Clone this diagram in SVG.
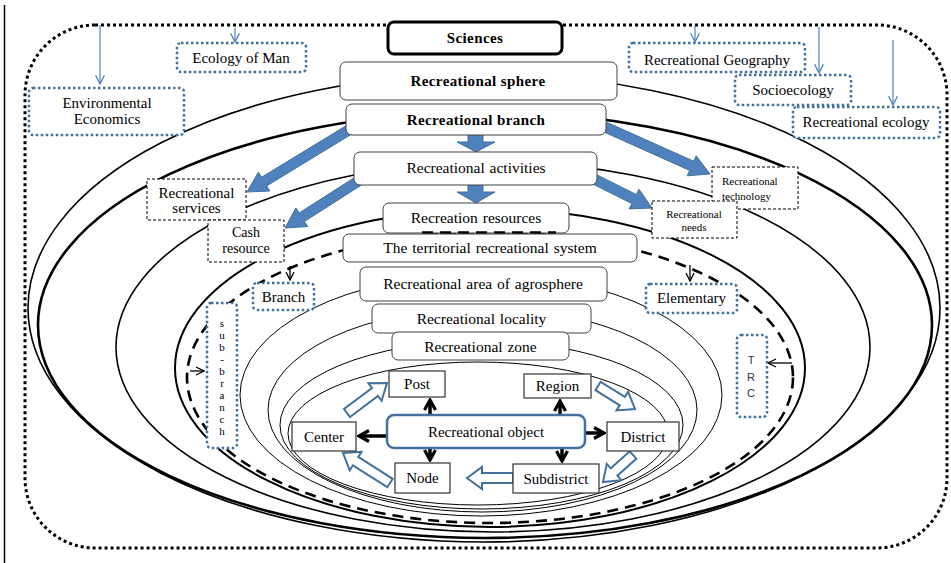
<svg xmlns="http://www.w3.org/2000/svg" width="951" height="563" viewBox="0 0 951 563">
<style>
.box{fill:#fff;stroke:#404040;stroke-width:1}
.nbox{fill:#fff;stroke:#333;stroke-width:1.2}
.dbox{fill:#fff;stroke:#000;stroke-width:1;stroke-dasharray:3 2}
.bdot{fill:#fff;stroke:#41719C;stroke-width:2.5;stroke-dasharray:2.5 2.5}
.t{font-family:"Liberation Serif","Times New Roman",serif;font-size:15px;fill:#000;text-anchor:middle}
.st{font-size:15.5px;word-spacing:1px}
.b{font-weight:bold;letter-spacing:0.4px}
.s{font-size:11px}
.ring{fill:none;stroke:#000}
.blk{fill:#4F81BD;stroke:#41719C;stroke-width:1}
.hol{fill:#fff;stroke:#41719C;stroke-width:2}
.bl{stroke:#4F81BD;stroke-width:1.2;fill:none}
.ka{stroke:#000;stroke-width:3.5;fill:none}
.ta{stroke:#000;stroke-width:1.3;fill:none}
</style>
<defs>
<marker id="bh" viewBox="0 0 14 14" refX="12" refY="7" markerWidth="14" markerHeight="14" markerUnits="userSpaceOnUse" orient="auto"><path d="M2,1.5 L12,7 L2,12.5" fill="none" stroke="#000" stroke-width="3.2"/></marker>
<marker id="th" viewBox="0 0 10 10" refX="9" refY="5" markerWidth="10" markerHeight="10" markerUnits="userSpaceOnUse" orient="auto"><path d="M1,1 L9,5 L1,9" fill="none" stroke="#000" stroke-width="1.3"/></marker>
<marker id="bth" viewBox="0 0 10 10" refX="9" refY="5" markerWidth="11" markerHeight="11" markerUnits="userSpaceOnUse" orient="auto"><path d="M1,1 L9,5 L1,9" fill="none" stroke="#4F81BD" stroke-width="1.2"/></marker>
</defs>
<rect width="951" height="563" fill="#fff"/>
<line x1="4.5" y1="5" x2="4.5" y2="563" stroke="#000" stroke-width="1.5"/>
<rect x="25" y="25" width="922" height="523" rx="70" fill="none" stroke="#000" stroke-width="3" stroke-dasharray="3 3"/>

<g id="rings">
<ellipse class="ring" cx="484" cy="308" rx="456" ry="234" stroke-width="1.6"/>
<ellipse class="ring" cx="485" cy="325" rx="447" ry="213" stroke-width="2.6"/>
<ellipse class="ring" cx="493" cy="347" rx="377" ry="185" stroke-width="1.6"/>
<ellipse class="ring" cx="490" cy="368" rx="315" ry="159" stroke-width="2"/>
<ellipse class="ring" cx="490" cy="377.5" rx="303" ry="145.5" stroke-width="2.6" stroke-dasharray="11 7"/>
<ellipse class="ring" cx="481" cy="395" rx="241" ry="121" stroke-width="1" stroke="#444"/>
<ellipse class="ring" cx="482.5" cy="410" rx="214.5" ry="102" stroke-width="1"/>
<ellipse class="ring" cx="481.5" cy="425" rx="201.5" ry="84" stroke-width="1"/>
<ellipse class="ring" cx="478" cy="433.5" rx="190" ry="71.5" stroke-width="1"/>
</g>

<g id="connectors">
<line class="bl" x1="100" y1="25" x2="100" y2="84" marker-end="url(#bth)"/>
<line class="bl" x1="235" y1="28" x2="235" y2="42" marker-end="url(#bth)"/>
<line class="bl" x1="695" y1="25" x2="695" y2="42" marker-end="url(#bth)"/>
<line class="bl" x1="819" y1="27" x2="819" y2="73" marker-end="url(#bth)"/>
<line class="bl" x1="893" y1="40" x2="893" y2="105" marker-end="url(#bth)"/>
<polygon class="blk" points="354.6,132.3 266.7,185.9 269.8,191 247,192 258.4,172.2 261.5,177.3 349.4,123.7"/>
<polygon class="blk" points="602.95,131.57 689.7,170.4 687.2,175.8 710,174 696.2,155.8 693.7,161.2 607.05,122.43"/>
<polygon class="blk" points="362.7,184.2 304.5,221.4 307.7,226.5 285,228 295.9,207.9 299.1,213 357.3,175.8"/>
<polygon class="blk" points="589.8,182.5 631.9,203.6 629.2,208.9 652,208 639,189.3 636.3,194.6 594.2,173.5"/>
<polygon class="blk" points="468,133 483,133 483,142 495,142 476,152 457,142 468,142"/>
<polygon class="blk" points="468,183 483,183 483,192 495,192 476,203 457,192 468,192"/>
<line class="ta" x1="290" y1="266" x2="290" y2="280" marker-end="url(#th)"/>
<line class="ta" x1="690" y1="265" x2="690" y2="281" marker-end="url(#th)"/>
<line class="ta" x1="190" y1="371" x2="204" y2="371" marker-end="url(#th)"/>
<line class="ta" x1="792" y1="363" x2="768" y2="363" marker-end="url(#th)"/>
<line class="ka" x1="430" y1="415" x2="430" y2="400" marker-end="url(#bh)"/>
<line class="ka" x1="560" y1="415" x2="560" y2="401" marker-end="url(#bh)"/>
<line class="ka" x1="387" y1="436" x2="359" y2="436" marker-end="url(#bh)"/>
<line class="ka" x1="585" y1="433" x2="604" y2="433" marker-end="url(#bh)"/>
<line class="ka" x1="430" y1="448" x2="430" y2="460" marker-end="url(#bh)"/>
<line class="ka" x1="562" y1="448" x2="562" y2="461" marker-end="url(#bh)"/>
<polygon class="hol" points="350,417 378,396 381.6,400.8 387,383 368.4,383.2 372,388 344,409"/>
<polygon class="hol" points="595.4,390.2 619.7,405.3 616.5,410.4 635,409 628.1,391.8 624.9,396.9 600.6,381.8"/>
<polygon class="hol" points="636.3,458.7 617.4,475.7 621.4,480.2 603,482 606.8,463.8 610.8,468.3 629.7,451.3"/>
<polygon class="hol" points="513,483 482,483 482,489 467,478 482,467 482,473 513,473"/>
<polygon class="hol" points="392.7,478.8 358.3,456.9 361.5,451.8 343,453 349.7,470.4 352.9,465.3 387.3,487.2"/>
</g>

<g id="sciences"><rect x="388" y="22" width="174" height="32" rx="6" fill="#fff" stroke="#000" stroke-width="3"/><text class="t b" x="475" y="43">Sciences</text></g>
<g id="env-econ"><rect class="bdot" x="29" y="88" width="155" height="47" rx="4"/><text class="t" x="107" y="108">Environmental</text><text class="t" x="107" y="124">Economics</text></g>
<g id="eco-man"><rect class="bdot" x="177" y="43" width="129" height="29" rx="4"/><text class="t" x="241" y="63">Ecology of Man</text></g>
<g id="rec-geo"><rect class="bdot" x="629" y="43" width="176" height="29" rx="4"/><text class="t" x="717" y="65">Recreational Geography</text></g>
<g id="socio"><rect class="bdot" x="735" y="75" width="116" height="30" rx="4"/><text class="t" x="793" y="95">Socioecology</text></g>
<g id="rec-eco"><rect class="bdot" x="793" y="107" width="147" height="31" rx="4"/><text class="t" x="866" y="127">Recreational ecology</text></g>

<g id="sphere"><rect class="box" x="340" y="62" width="277" height="38" rx="6"/><text class="t b" x="478" y="86">Recreational sphere</text></g>
<g id="branch-main"><rect class="box" x="346" y="104" width="260" height="31" rx="6"/><text class="t b" x="476" y="125">Recreational branch</text></g>
<g id="activities"><rect class="box" x="354" y="152" width="243" height="33" rx="6"/><text class="t st" x="476" y="173">Recreational activities</text></g>
<g id="resources"><rect class="box" x="383" y="203" width="186" height="30" rx="6"/><text class="t st" x="476" y="223">Recreation resources</text></g>
<path d="M422,232.5 L556,232.5" stroke="#000" stroke-width="2.6" stroke-dasharray="11 7" fill="none"/>
<g id="territorial"><rect class="box" x="343" y="234" width="294" height="28" rx="6"/><text class="t st" x="490" y="253">The territorial recreational system</text></g>
<g id="agrosphere"><rect class="box" x="360" y="267" width="247" height="34" rx="6"/><text class="t st" x="483" y="289">Recreational area of agrosphere</text></g>
<g id="locality"><rect class="box" x="372" y="304" width="219" height="29" rx="6"/><text class="t st" x="481.5" y="324">Recreational locality</text></g>
<g id="zone"><rect class="box" x="392" y="332" width="177" height="28" rx="6"/><text class="t st" x="480.5" y="352">Recreational zone</text></g>

<g id="services"><rect class="dbox" x="147" y="179" width="99" height="41"/><text class="t" x="196.5" y="197.5">Recreational</text><text class="t" x="196.5" y="213">services</text></g>
<g id="cash"><rect class="dbox" x="208" y="220" width="76" height="42"/><text class="t" style="font-size:14px" x="246" y="237">Cash</text><text class="t" style="font-size:14px" x="246" y="252.5">resource</text></g>
<g id="technology"><rect class="dbox" x="712" y="167" width="86" height="42"/><text class="t s" x="722" y="185" style="text-anchor:start">Recreational</text><text class="t s" x="722" y="200" style="text-anchor:start">technology</text></g>
<g id="needs"><rect class="dbox" x="652" y="201" width="85" height="37"/><text class="t s" x="694" y="218">Recreational</text><text class="t s" x="694" y="231">needs</text></g>

<g id="branch"><rect class="bdot" x="253" y="283" width="61" height="27" rx="4"/><text class="t" x="283.5" y="302">Branch</text></g>
<g id="elementary"><rect class="bdot" x="646" y="284" width="91" height="29" rx="4"/><text class="t" x="691.5" y="303">Elementary</text></g>
<g id="sub-branch"><rect class="bdot" x="207" y="303" width="30" height="145" rx="4"/>
<text class="t" style="font-size:11px" x="222"><tspan x="222" y="327">s</tspan><tspan x="222" y="339">u</tspan><tspan x="222" y="351">b</tspan><tspan x="222" y="363">-</tspan><tspan x="222" y="375">b</tspan><tspan x="222" y="387">r</tspan><tspan x="222" y="399">a</tspan><tspan x="222" y="411">n</tspan><tspan x="222" y="423">c</tspan><tspan x="222" y="435">h</tspan></text></g>
<g id="trc"><rect class="bdot" x="737" y="335" width="30" height="82" rx="4"/>
<text x="751" style="font-family:'Liberation Sans',Arial,sans-serif;font-size:11px;fill:#333;text-anchor:middle"><tspan x="751" y="364">T</tspan><tspan x="751" y="381">R</tspan><tspan x="751" y="397">C</tspan></text></g>

<g id="object"><rect x="387" y="415" width="198" height="33" rx="7" fill="#fff" stroke="#41719C" stroke-width="2.5"/><text class="t" x="486" y="436.5">Recreational object</text></g>
<g id="post"><rect class="nbox" x="389" y="371" width="56" height="26"/><text class="t" x="417" y="389">Post</text></g>
<g id="region"><rect class="nbox" x="524" y="374" width="67" height="24"/><text class="t" x="557.5" y="391">Region</text></g>
<g id="center"><rect class="nbox" x="292" y="422" width="64" height="29"/><text class="t" x="324" y="441.5">Center</text></g>
<g id="district"><rect class="nbox" x="607" y="422" width="72" height="29"/><text class="t" x="643" y="441.5">District</text></g>
<g id="node"><rect class="nbox" x="395" y="463" width="55" height="30"/><text class="t" x="422.5" y="483">Node</text></g>
<g id="subdistrict"><rect class="nbox" x="513" y="464" width="86" height="29"/><text class="t" x="556" y="483.5">Subdistrict</text></g>
</svg>
